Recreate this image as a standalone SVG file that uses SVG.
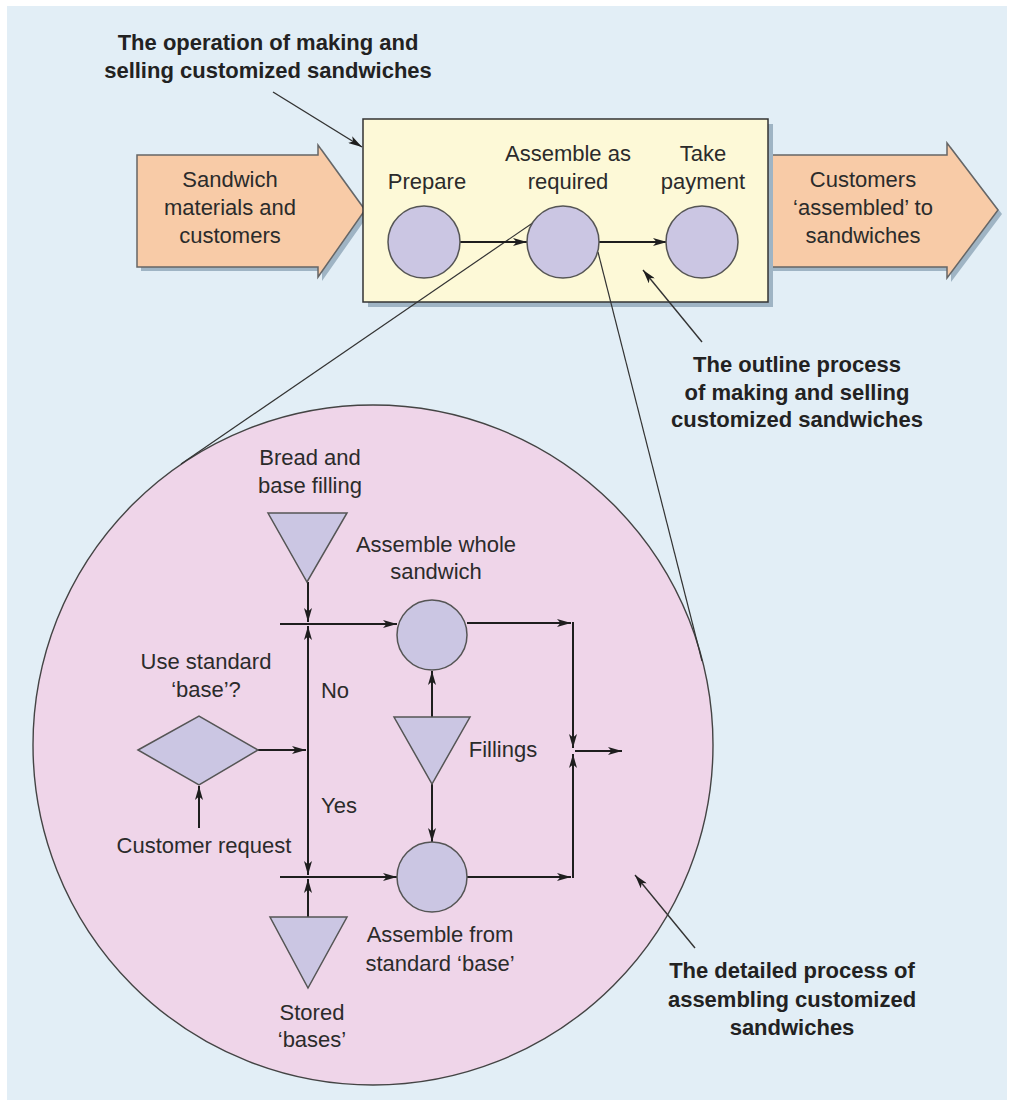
<svg xmlns="http://www.w3.org/2000/svg" width="1012" height="1100" viewBox="0 0 1012 1100">
<style>
.t{font-family:"Liberation Sans",Arial,sans-serif;font-size:22px;fill:#2b2b2b;text-anchor:middle}
.b{font-family:"Liberation Sans",Arial,sans-serif;font-size:22px;font-weight:bold;fill:#222;text-anchor:middle}
.c{stroke:#1e1e1e;stroke-width:2;fill:none;marker-end:url(#ah)}
.thin{stroke:#333;stroke-width:1.2;fill:none}
.ptr{stroke:#333;stroke-width:1.4;fill:none;marker-end:url(#ah)}
.node{fill:#cbc6e3;stroke:#555;stroke-width:1.5}
.big{fill:#f8cba7;stroke:#666;stroke-width:1.5}
.shadow{fill:#9fb4c4}
</style>
<defs>
<marker id="ah" viewBox="0 0 14 8" refX="14" refY="4" markerWidth="14" markerHeight="8" markerUnits="userSpaceOnUse" orient="auto">
<path d="M0,0 L14,4 L0,8 L3.5,4 z" fill="#1e1e1e"/>
</marker>
</defs>
<rect x="7" y="6" width="1000" height="1094" fill="#e2eef6"/>

<g id="label-operation">
<text class="b" x="268" y="50">The operation of making and</text>
<text class="b" x="268" y="78">selling customized sandwiches</text>
</g>

<g id="input-arrow">
<polygon class="shadow" points="141,159 322,159 322,149 369,214 322,281 322,271 141,271"/>
<polygon class="big" points="137,155 318,155 318,145 365,210 318,277 318,267 137,267"/>
<text class="t" x="230" y="187">Sandwich</text>
<text class="t" x="230" y="215">materials and</text>
<text class="t" x="230" y="243">customers</text>
</g>

<g id="output-arrow">
<polygon class="shadow" points="772,159 951,159 951,147 1002,214 951,282 951,271 772,271"/>
<polygon class="big" points="768,155 947,155 947,143 998,210 947,278 947,267 768,267"/>
<text class="t" x="863" y="187">Customers</text>
<text class="t" x="863" y="215">‘assembled’ to</text>
<text class="t" x="863" y="243">sandwiches</text>
</g>

<g id="operation-box">
<rect class="shadow" x="368" y="124" width="405" height="183"/>
<rect x="363" y="119" width="405" height="183" fill="#fdf9d7" stroke="#333" stroke-width="1.5"/>
</g>

<g id="detail-circle">
<circle cx="373" cy="745" r="340" fill="#efd5e9" stroke="#444" stroke-width="1.4"/>
</g>

<g id="connectors">
<line class="thin" x1="537" y1="220" x2="181" y2="464"/>
<line class="thin" x1="598" y1="252" x2="702" y2="661"/>
<line class="c" x1="460" y1="242" x2="527" y2="242"/>
<line class="c" x1="599" y1="242" x2="667" y2="242"/>
<line class="ptr" x1="273" y1="92" x2="362" y2="147"/>
<line class="ptr" x1="702" y1="342" x2="643" y2="270"/>
<line class="ptr" x1="695" y1="948" x2="635" y2="875"/>
<line class="c" x1="308" y1="582" x2="308" y2="622"/>
<line class="c" x1="280" y1="624" x2="397" y2="624"/>
<line class="c" x1="308" y1="750" x2="308" y2="626"/>
<line class="c" x1="308" y1="750" x2="308" y2="875"/>
<line class="c" x1="258" y1="750" x2="306" y2="750"/>
<line class="c" x1="199" y1="828" x2="199" y2="786"/>
<line class="c" x1="280" y1="877" x2="397" y2="877"/>
<line class="c" x1="308" y1="917" x2="308" y2="879"/>
<line class="c" x1="432" y1="717" x2="432" y2="671"/>
<line class="c" x1="432" y1="784" x2="432" y2="842"/>
<line class="c" x1="467" y1="623" x2="571" y2="623"/>
<line class="c" x1="573" y1="622" x2="573" y2="748"/>
<line class="c" x1="467" y1="877" x2="571" y2="877"/>
<line class="c" x1="573" y1="878" x2="573" y2="754"/>
<line class="c" x1="575" y1="751" x2="622" y2="751"/>
</g>

<g id="prepare">
<circle class="node" cx="424" cy="242" r="36"/>
<text class="t" x="427" y="189">Prepare</text>
</g>
<g id="assemble">
<circle class="node" cx="563" cy="242" r="36"/>
<text class="t" x="568" y="161">Assemble as</text>
<text class="t" x="568" y="189">required</text>
</g>
<g id="take-payment">
<circle class="node" cx="702" cy="242" r="36"/>
<text class="t" x="703" y="161">Take</text>
<text class="t" x="703" y="189">payment</text>
</g>

<g id="label-outline">
<text class="b" x="797" y="372">The outline process</text>
<text class="b" x="797" y="400">of making and selling</text>
<text class="b" x="797" y="427">customized sandwiches</text>
</g>

<g id="bread">
<text class="t" x="310" y="465">Bread and</text>
<text class="t" x="310" y="493">base filling</text>
<polygon class="node" points="268,513 347,513 307,582"/>
</g>

<g id="assemble-whole">
<text class="t" x="436" y="552">Assemble whole</text>
<text class="t" x="436" y="579">sandwich</text>
<circle class="node" cx="432" cy="635" r="35"/>
</g>

<g id="decision">
<text class="t" x="206" y="669">Use standard</text>
<text class="t" x="206" y="697">‘base’?</text>
<polygon class="node" points="138,750 199,716 258,750 199,785"/>
</g>

<g id="customer-request">
<text class="t" x="204" y="853">Customer request</text>
</g>

<g id="label-no"><text class="t" x="335" y="698">No</text></g>
<g id="label-yes"><text class="t" x="339" y="813">Yes</text></g>

<g id="fillings">
<polygon class="node" points="394,717 470,717 432,784"/>
<text class="t" x="503" y="757">Fillings</text>
</g>

<g id="assemble-base">
<circle class="node" cx="432" cy="877" r="35"/>
<text class="t" x="440" y="942">Assemble from</text>
<text class="t" x="440" y="971">standard ‘base’</text>
</g>

<g id="stored">
<polygon class="node" points="270,917 347,917 308,988"/>
<text class="t" x="312" y="1020">Stored</text>
<text class="t" x="312" y="1047">‘bases’</text>
</g>

<g id="label-detailed">
<text class="b" x="792" y="978">The detailed process of</text>
<text class="b" x="792" y="1007">assembling customized</text>
<text class="b" x="792" y="1035">sandwiches</text>
</g>
</svg>
